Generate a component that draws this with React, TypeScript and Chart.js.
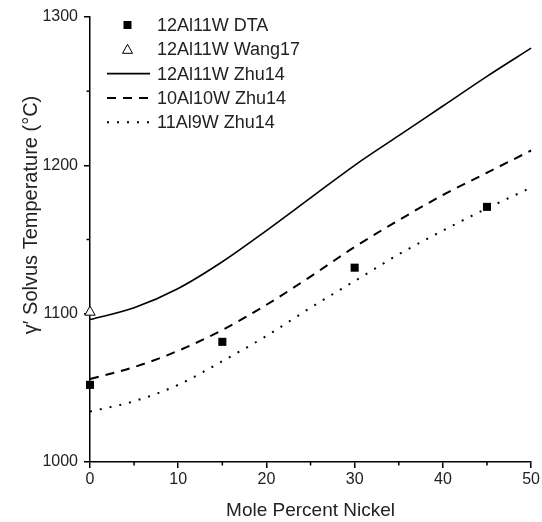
import React, { useEffect, useRef } from "react";
import { Chart, registerables } from "chart.js";

Chart.register(...registerables);

// ---- Data ----
const nickel = [0, 5, 10, 15, 20, 25, 30, 35, 40, 45, 50];
const zhu12Al11W = [1096, 1104, 1117, 1135, 1156, 1178, 1200, 1220, 1240, 1260, 1279];
const zhu10Al10W = [1056, 1064, 1075, 1089, 1106, 1125, 1145, 1163, 1180, 1195, 1210];
const zhu11Al9W = [1034, 1041, 1052, 1068, 1085, 1104, 1122, 1140, 1156, 1171, 1185];
const dtaNickel = [0, 15, 30, 45];
const dtaTemp = [1052, 1081, 1131, 1172];
const wangNickel = [0];
const wangTemp = [1101];
const xMinorTicks = [5, 15, 25, 35, 45];
const yMinorTicks = [1050, 1150, 1250];
const xTitle = "Mole Percent Nickel";
const yTitle = "\u03B3\u2032 Solvus Temperature (\u00B0C)";

const FONT = '"Liberation Sans", Arial, sans-serif';
const TEXT = "#222";

const toXY = (xs: number[], ys: number[]) => xs.map((x, i) => ({ x, y: ys[i] }));

const extrasPlugin = {
  id: "extras",
  afterDraw(chart: any) {
    const ctx = chart.ctx;
    const xs = chart.scales.x;
    const ys = chart.scales.y;
    const area = chart.chartArea;
    ctx.save();
    // minor ticks
    ctx.strokeStyle = "#000";
    ctx.lineWidth = 1.5;
    xMinorTicks.forEach((v) => {
      const px = xs.getPixelForValue(v);
      ctx.beginPath();
      ctx.moveTo(px, area.bottom);
      ctx.lineTo(px, area.bottom + 3.5);
      ctx.stroke();
    });
    yMinorTicks.forEach((v) => {
      const py = ys.getPixelForValue(v);
      ctx.beginPath();
      ctx.moveTo(area.left, py);
      ctx.lineTo(area.left - 3.5, py);
      ctx.stroke();
    });
    // y title
    ctx.fillStyle = TEXT;
    ctx.font = `20px ${FONT}`;
    ctx.textAlign = "center";
    ctx.textBaseline = "middle";
    ctx.translate(31, area.top + 198);
    ctx.rotate(-Math.PI / 2);
    ctx.fillText(yTitle, 0, 0);
    ctx.restore();

    // legend
    ctx.save();
    const lx0 = area.left + 17;
    const lx1 = area.left + 60;
    const tx = area.left + 67;
    chart.data.datasets.forEach((ds: any, i: number) => {
      const cy = area.top + 8 + i * 24.3;
      ctx.strokeStyle = "#000";
      ctx.fillStyle = "#000";
      if (ds.showLine === false) {
        const cx = (lx0 + lx1) / 2 - 1;
        ctx.lineWidth = 1;
        if (ds.pointStyle === "rect") {
          ctx.fillRect(cx - 4, cy - 4, 8, 8);
        } else {
          ctx.fillStyle = "#fff";
          ctx.beginPath();
          ctx.moveTo(cx, cy - 5);
          ctx.lineTo(cx + 5, cy + 4);
          ctx.lineTo(cx - 5, cy + 4);
          ctx.closePath();
          ctx.fill();
          ctx.stroke();
        }
      } else {
        ctx.lineWidth = ds.borderWidth;
        ctx.setLineDash(ds.borderDash || []);
        ctx.beginPath();
        ctx.moveTo(lx0, cy);
        ctx.lineTo(lx1, cy);
        ctx.stroke();
        ctx.setLineDash([]);
      }
      ctx.fillStyle = TEXT;
      ctx.font = `18px ${FONT}`;
      ctx.textAlign = "left";
      ctx.textBaseline = "middle";
      ctx.fillText(ds.label, tx, cy + 1);
    });
    ctx.restore();
  },
};

export default function App() {
  const ref = useRef<HTMLCanvasElement | null>(null);
  useEffect(() => {
    if (!ref.current) return;
    const chart = new Chart(ref.current, {
      type: "line",
      data: {
        datasets: [
          {
            label: "12Al11W DTA",
            data: toXY(dtaNickel, dtaTemp),
            showLine: false,
            pointStyle: "rect",
            pointRadius: 5.7,
            pointBackgroundColor: "#000",
            pointBorderColor: "#000",
            pointBorderWidth: 0,
            borderColor: "#000",
            clip: false,
          },
          {
            label: "12Al11W Wang17",
            data: toXY(wangNickel, wangTemp),
            showLine: false,
            pointStyle: "triangle",
            pointRadius: 6,
            pointBackgroundColor: "#fff",
            pointBorderColor: "#000",
            pointBorderWidth: 1,
            borderColor: "#000",
            clip: false,
          },
          {
            label: "12Al11W Zhu14",
            data: toXY(nickel, zhu12Al11W),
            borderColor: "#000",
            borderWidth: 1.6,
            pointRadius: 0,
            cubicInterpolationMode: "monotone",
            clip: false,
          },
          {
            label: "10Al10W Zhu14",
            data: toXY(nickel, zhu10Al10W),
            borderColor: "#000",
            borderWidth: 2,
            borderDash: [9, 7],
            pointRadius: 0,
            cubicInterpolationMode: "monotone",
            clip: false,
          },
          {
            label: "11Al9W Zhu14",
            data: toXY(nickel, zhu11Al9W),
            borderColor: "#000",
            borderWidth: 2,
            borderDash: [2, 8],
            pointRadius: 0,
            cubicInterpolationMode: "monotone",
            clip: false,
          },
        ] as any,
      },
      options: {
        animation: false,
        responsive: false,
        maintainAspectRatio: false,
        layout: { padding: { top: 17, right: 9, left: 0, bottom: 0 } },
        plugins: { legend: { display: false }, tooltip: { enabled: false } },
        scales: {
          x: {
            type: "linear",
            min: 0,
            max: 50,
            ticks: { stepSize: 10, color: TEXT, font: { family: FONT, size: 16 }, padding: 2, callback: (v: any) => String(v) },
            grid: { drawOnChartArea: false, drawTicks: true, tickLength: 6, color: "#000", lineWidth: 1.5 },
            border: { color: "#000", width: 1.5 },
            title: { display: true, text: xTitle, color: TEXT, font: { family: FONT, size: 19 }, padding: { top: 12, bottom: 0 } },
            afterFit: (s: any) => { s.height = 60; },
          },
          y: {
            type: "linear",
            min: 1000,
            max: 1300,
            ticks: { stepSize: 100, color: TEXT, font: { family: FONT, size: 16 }, padding: 6, callback: (v: any) => String(v) },
            grid: { drawOnChartArea: false, drawTicks: true, tickLength: 6, color: "#000", lineWidth: 1.5 },
            border: { color: "#000", width: 1.5 },
            afterFit: (s: any) => { s.width = 90; },
          },
        },
      },
      plugins: [extrasPlugin],
    });
    return () => chart.destroy();
  }, []);
  return (
    <div style={{ position: "absolute", left: 0, top: 0, width: 542, height: 522, background: "#fff" }}>
      <canvas ref={ref} width={542} height={522} />
    </div>
  );
}
